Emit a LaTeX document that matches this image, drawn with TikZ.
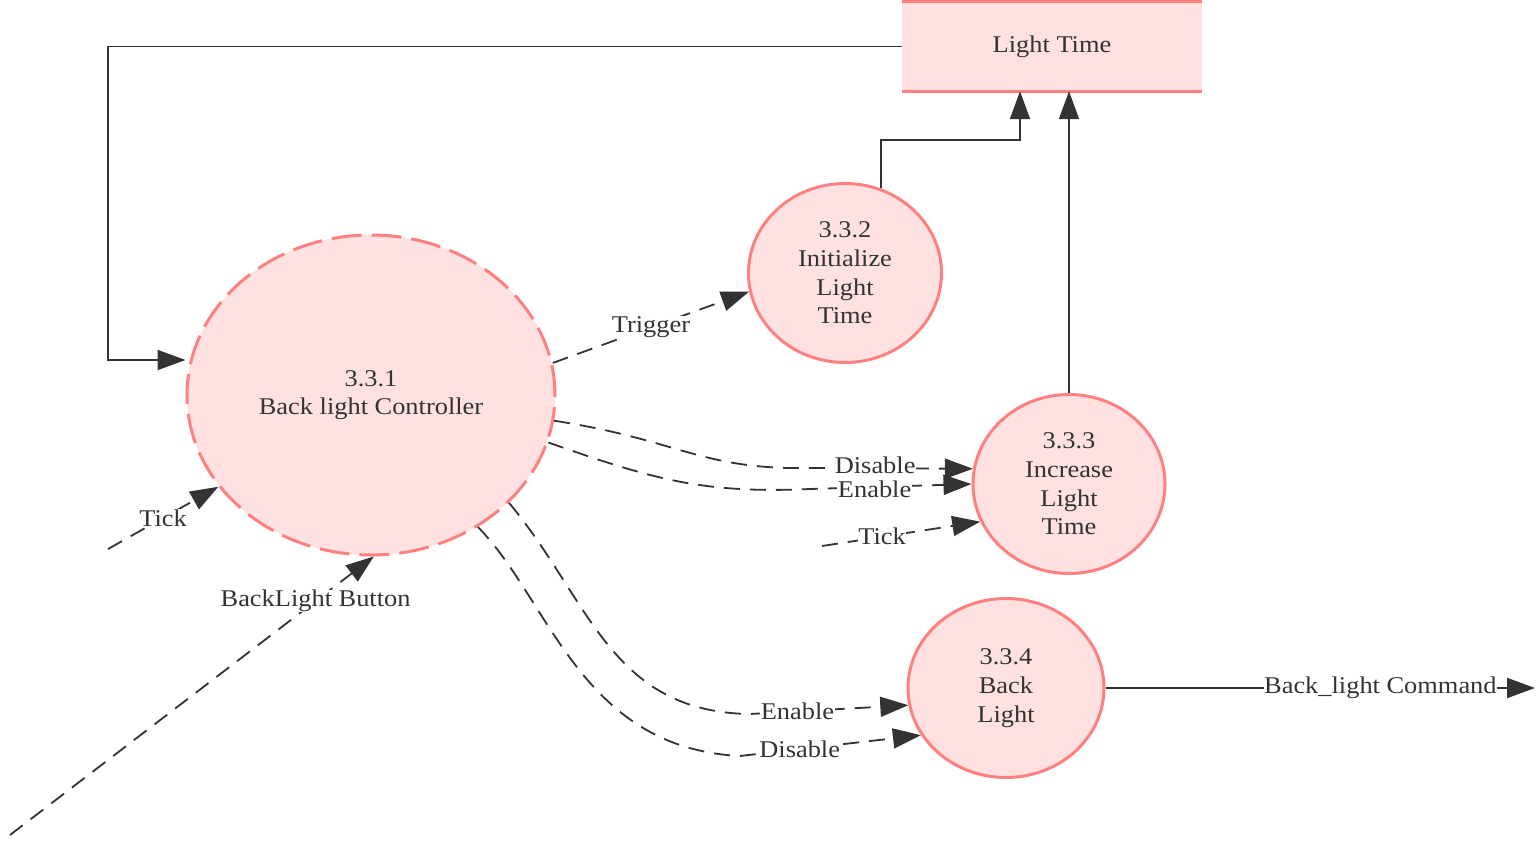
\documentclass[tikz,border=0pt]{standalone}
\usepackage{fontspec}
\setmainfont[FakeStretch=1.1]{Liberation Serif}
\usetikzlibrary{arrows.meta,shapes.geometric}
\definecolor{pfill}{RGB}{255,225,225}
\definecolor{pred}{RGB}{255,128,128}
\definecolor{ink}{RGB}{51,51,51}
\tikzset{
  proc/.style={ellipse,draw=pred,fill=pfill,line width=3pt,align=center,text=ink,
    font=\fontsize{24}{28.7}\selectfont,inner sep=0pt},
  flow/.style={draw=ink,line width=1.8pt,-{Triangle[length=28pt,width=20pt]}},
  dflow/.style={flow,dash pattern=on 16pt off 10pt},
  lab/.style={fill=white,text=ink,font=\fontsize{24}{28.7}\selectfont,inner sep=0.5pt},
}
\begin{document}
\begin{tikzpicture}[x=1pt,y=-1pt]
\useasboundingbox[fill=white] (0,0) rectangle (1537,841);
% data store
\node[fill=pfill,minimum width=300pt,minimum height=89pt,inner sep=0pt,text=ink,
  font=\fontsize{24}{28.7}\selectfont] (store) at (1052,46.5) {Light Time};
\draw[pred,line width=3pt] (store.north west) -- (store.north east);
\draw[pred,line width=3pt] (store.south west) -- (store.south east);
% processes
\node[proc,dash pattern=on 30pt off 10pt,minimum width=368pt,minimum height=320pt] (c1) at (371,395) {3.3.1\\Back light Controller};
\node[proc,minimum width=193pt,minimum height=179pt] (c2) at (845,273) {3.3.2\\Initialize\\Light\\Time};
\node[proc,minimum width=192pt,minimum height=179pt] (c3) at (1069,484) {3.3.3\\Increase\\Light\\Time};
\node[proc,minimum width=196pt,minimum height=179pt] (c4) at (1006,688) {3.3.4\\Back\\Light};
% helper coordinates
\coordinate (k1) at (108,360);
\coordinate (k2) at (1020,140);
\coordinate (tickA) at (108,549);
\coordinate (tickB) at (822,546);
\coordinate (btn) at (10,835);
\coordinate (cmd) at (1535,688);
% connectors
\draw[flow] (store.west) -| (k1) -- (c1.west |- k1);
\draw[flow] (c2.67) |- (k2) -- (k2 |- store.south);
\draw[flow] (c3.north) -- (c3.north |- store.south);
\draw[dflow] (c1.10) -- node[lab,pos=0.5]{Trigger} (c2.191);
\draw[dflow] (c1.352) .. controls (680,440) and (700,470) .. (810,468) -- node[lab,pos=0.4,yshift=3pt]{Disable} (c3.171);
\draw[dflow] (c1.345) .. controls (650,478) and (700,494) .. (810,489) -- node[lab,pos=0.4,yshift=-2pt]{Enable} (c3.west);
\draw[dflow] (tickB) -- node[lab,pos=0.38]{Tick} (c3.203);
\draw[dflow] (tickA) -- node[lab,pos=0.5]{Tick} (c1.211);
\draw[dflow] (btn) -- node[lab,pos=0.84]{BackLight Button} (c1.271);
\draw[dflow] (c1.322) .. controls (590,600) and (610,712) .. (750,714) -- node[lab,pos=0.3]{Enable} (c4.190);
\draw[dflow] (c1.309) .. controls (550,600) and (580,748) .. (740,756) -- node[lab,pos=0.33]{Disable} (c4.209);
\draw[flow] (c4.east) -- node[lab,pos=0.64]{Back\_light Command} (cmd);
\end{tikzpicture}
\end{document}
